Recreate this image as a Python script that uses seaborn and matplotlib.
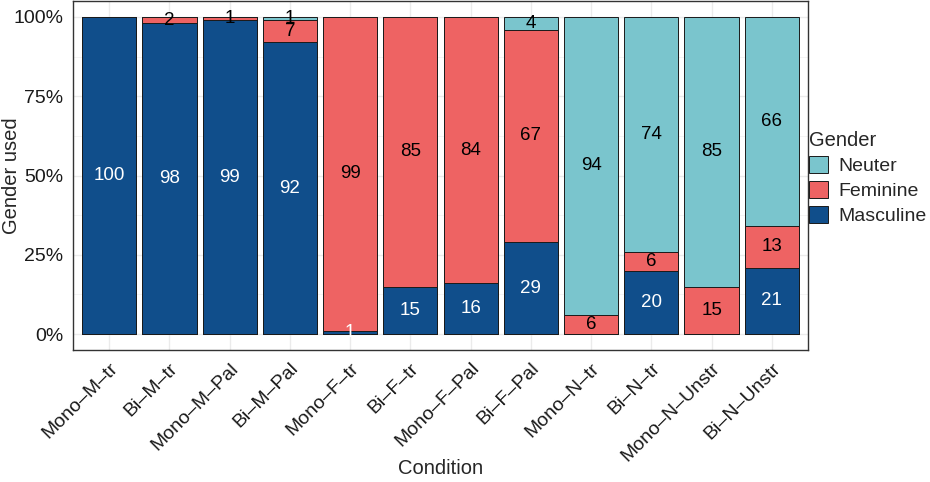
import matplotlib.pyplot as plt
import seaborn as sns
import numpy as np
import pandas as pd
from matplotlib.patches import Patch

# Daten aus der Abbildung
conditions = ['Mono–M–tr', 'Bi–M–tr', 'Mono–M–Pal', 'Bi–M–Pal', 'Mono–F–tr', 'Bi–F–tr',
              'Mono–F–Pal', 'Bi–F–Pal', 'Mono–N–tr', 'Bi–N–tr', 'Mono–N–Unstr', 'Bi–N–Unstr']
masculine = [100, 98, 99, 92, 1, 15, 16, 29, 0, 20, 0, 21]
feminine = [0, 2, 1, 7, 99, 85, 84, 67, 6, 6, 15, 13]
neuter = [0, 0, 0, 1, 0, 0, 0, 4, 94, 74, 85, 66]

col_n = '#7AC5CD'
col_f = '#EE6363'
col_m = '#104E8B'

df = pd.DataFrame({'Condition': conditions, 'Masculine': masculine,
                   'Feminine': feminine, 'Neuter': neuter})
df['cum_m'] = df['Masculine']
df['cum_f'] = df['Masculine'] + df['Feminine']
df['cum_n'] = df['cum_f'] + df['Neuter']

sns.set_style('whitegrid')
plt.rcParams['font.family'] = ['Liberation Sans', 'DejaVu Sans']

fig = plt.figure(figsize=(9.3, 4.82), dpi=100)
ax = fig.add_axes([73 / 930, 1 - 350 / 482, (808 - 73) / 930, 349 / 482])

# gestapelt: von oben nach unten zeichnen
for col, c in [('cum_n', col_n), ('cum_f', col_f), ('cum_m', col_m)]:
    sns.barplot(data=df, x='Condition', y=col, color=c, width=0.9, ax=ax,
                edgecolor='#1a1a1a', linewidth=0.7, saturation=1, order=conditions)

# Beschriftungen in der Mitte der Segmente
lab_size = 13.5
for i, row in df.iterrows():
    if row['Masculine'] > 0:
        ax.text(i, row['Masculine'] / 2, str(row['Masculine']), ha='center', va='center',
                color='white', fontsize=lab_size)
    if row['Feminine'] > 0:
        ax.text(i, row['cum_m'] + row['Feminine'] / 2, str(row['Feminine']), ha='center',
                va='center', color='black', fontsize=lab_size)
    if row['Neuter'] > 0:
        ax.text(i, row['cum_f'] + row['Neuter'] / 2, str(row['Neuter']), ha='center',
                va='center', color='black', fontsize=lab_size)

ax.set_ylim(-5, 105)
ax.set_xlim(-0.6, len(conditions) - 0.4)
ax.set_yticks([0, 25, 50, 75, 100])
ax.set_yticklabels(['0%', '25%', '50%', '75%', '100%'])
ax.set_yticks([12.5, 37.5, 62.5, 87.5], minor=True)
ax.grid(which='major', color='#ebebeb', linewidth=1.0)
ax.grid(which='minor', axis='y', color='#f3f3f3', linewidth=0.6)
ax.set_axisbelow(True)
for s in ax.spines.values():
    s.set_color('#333333')
    s.set_linewidth(1.0)
ax.tick_params(axis='both', which='major', length=4, color='#333333', labelsize=14,
               labelcolor='#1a1a1a', direction='out', pad=3)
ax.tick_params(axis='y', which='minor', length=0)
plt.setp(ax.get_xticklabels(), rotation=45, ha='right', rotation_mode='anchor')
ax.set_xlabel('Condition', fontsize=14.5)
ax.set_ylabel('Gender used', fontsize=14.5)
ax.yaxis.set_label_coords(-0.071, 0.5)
ax.xaxis.set_label_coords(0.5, -0.312)

handles = [Patch(facecolor=col_n, edgecolor='#1a1a1a', linewidth=0.7, label='Neuter'),
           Patch(facecolor=col_f, edgecolor='#1a1a1a', linewidth=0.7, label='Feminine'),
           Patch(facecolor=col_m, edgecolor='#1a1a1a', linewidth=0.7, label='Masculine')]
fig.legend(handles=handles, title='Gender', loc='center left', bbox_to_anchor=(805 / 930, 1 - 178 / 482),
           frameon=False, fontsize=14, title_fontsize=14.5, handlelength=1.0, handleheight=1.0,
           handletextpad=0.5, labelspacing=0.3, alignment='left', borderaxespad=0, borderpad=0.2)

fig.savefig('out.png', dpi=100)
